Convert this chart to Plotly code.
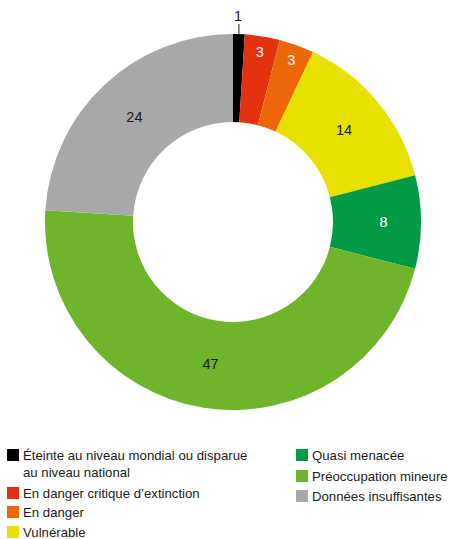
import math
import plotly.graph_objects as go

labels = [
    "Éteinte au niveau mondial ou disparue<br>au niveau national",
    "En danger critique d’extinction",
    "En danger",
    "Vulnérable",
    "Quasi menacée",
    "Préoccupation mineure",
    "Données insuffisantes",
]
values = [1, 3, 3, 14, 8, 47, 24]
colors = ["#000000", "#E3320F", "#ED6608", "#E8E100", "#009B45", "#6FB52B", "#A8A8A8"]
text_colors = ["#FFFFFF", "#FFFFFF", "#FFFFFF", "#1A1A1A", "#FFFFFF", "#1A1A1A", "#1A1A1A"]

W, H = 451, 539
FONT = "Liberation Sans, Arial, Helvetica, sans-serif"

def px(x):
    return x / W

def py(y):
    return 1 - y / H

# pie geometry (pixels)
cx, cy, R = 233, 222, 188
dom_x = [px(cx - R - 1), px(cx + R + 1)]
dom_y = [py(cy + R), py(cy - R)]

slice_text = [""] + [str(v) for v in values[1:]]

fig = go.Figure(go.Pie(
    labels=[l.replace("<br>", " ") for l in labels],
    values=values,
    text=slice_text,
    textinfo="text",
    textposition="inside",
    insidetextorientation="horizontal",
    textfont=dict(family=FONT, size=14.5, color=text_colors),
    marker=dict(colors=colors, line=dict(width=0)),
    hole=100 / 188,
    sort=False,
    direction="clockwise",
    rotation=0,
    domain=dict(x=dom_x, y=dom_y),
    showlegend=False,
    hoverinfo="label+value",
))

shapes = []
annotations = []

# label for the small first slice, placed outside with a leader line
total = sum(values)
theta = 2 * math.pi * (values[0] / 2) / total
x0 = cx + R * math.sin(theta)
y0 = cy - R * math.cos(theta)
shapes.append(dict(type="line", xref="paper", yref="paper",
                   x0=px(x0), y0=py(y0), x1=px(x0), y1=py(y0 - 10),
                   line=dict(color="#1A1A1A", width=1)))
annotations.append(dict(xref="paper", yref="paper", x=px(x0 - 1), y=py(y0 - 18),
                        text=str(values[0]), showarrow=False,
                        font=dict(family=FONT, size=14.5, color="#1A1A1A"),
                        xanchor="center", yanchor="middle"))

# custom legend: two columns
legend_pos = [
    (7, 455), (7, 493), (7, 512), (7, 532),
    (296, 455), (296, 476), (296, 496),
]
for lab, col, (lx, ly) in zip(labels, colors, legend_pos):
    shapes.append(dict(type="rect", xref="paper", yref="paper",
                       x0=px(lx), x1=px(lx + 12), y0=py(ly + 6), y1=py(ly - 6),
                       fillcolor=col, line=dict(width=0)))
    annotations.append(dict(xref="paper", yref="paper", x=px(lx + 14), y=py(ly - 9),
                            text=lab, showarrow=False, align="left",
                            font=dict(family=FONT, size=13.2, color="#1A1A1A"),
                            xanchor="left", yanchor="top"))

fig.update_layout(
    width=W, height=H, autosize=False,
    margin=dict(l=0, r=0, t=0, b=0),
    paper_bgcolor="white", plot_bgcolor="white",
    shapes=shapes, annotations=annotations,
)

fig.write_html(
    "out.html",
    config={"displayModeBar": False},
    post_script="document.body.style.margin='0';document.body.style.overflow='hidden';",
)
